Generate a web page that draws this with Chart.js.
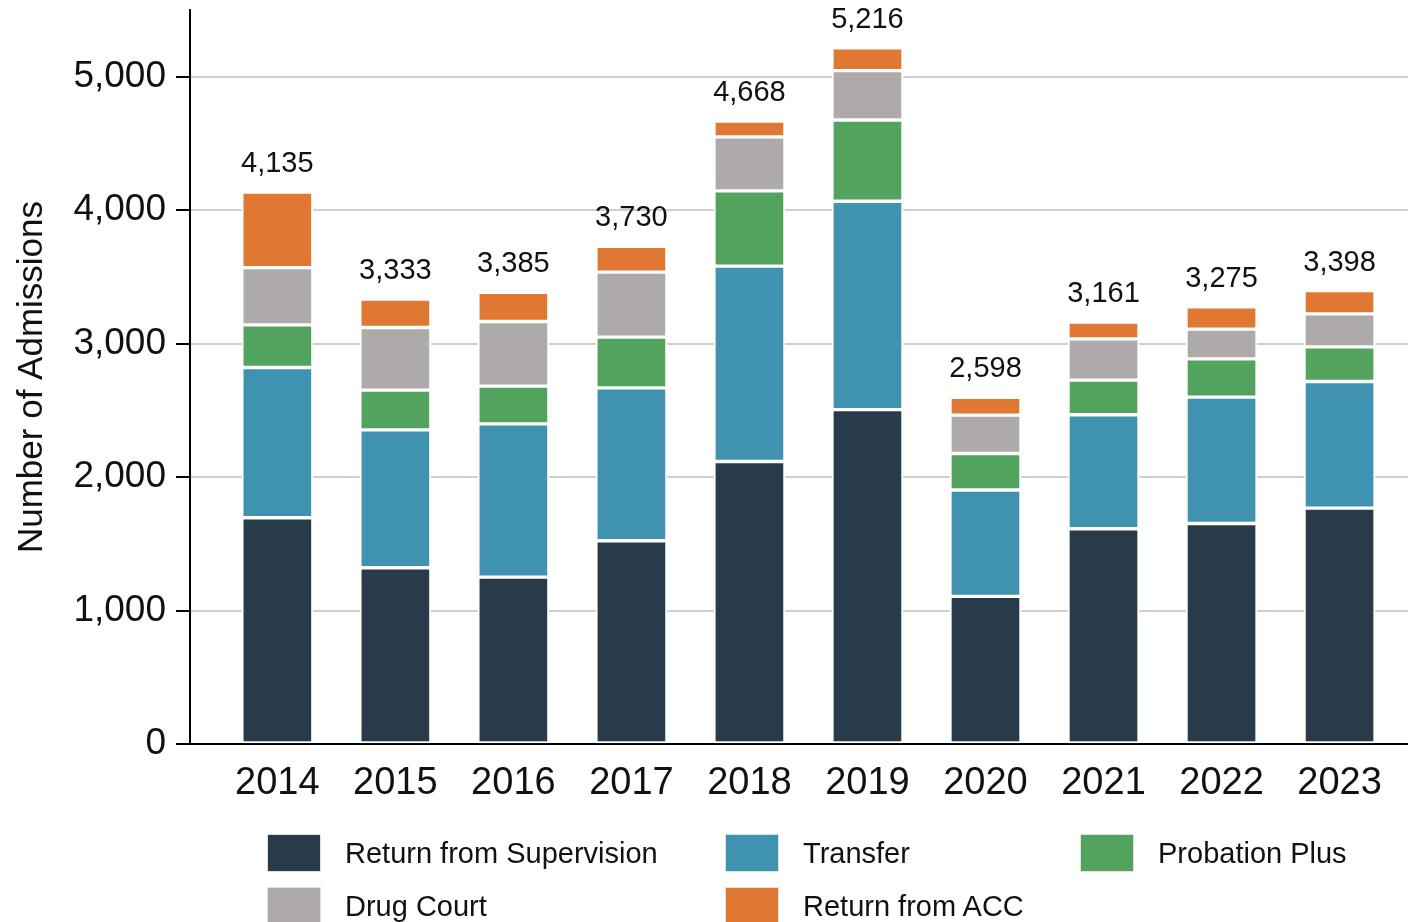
<!DOCTYPE html>
<html>
<head>
<meta charset="utf-8">
<script src="https://cdn.jsdelivr.net/npm/chart.js@4.4.0/dist/chart.umd.min.js"></script>
<style>
  body { margin: 0; background: #fff; }
  #wrap { position: relative; width: 1408px; height: 922px; }
  #legend {
    position: absolute; left: 268px; top: 835px;
    display: grid; grid-template-columns: 458px 355px 300px; grid-auto-rows: 53px;
    font-family: "Liberation Sans", Arial, sans-serif; font-size: 29px; color: #111;
  }
  .item { display: flex; align-items: center; height: 36px; white-space: nowrap; }
  .swatch { width: 52px; height: 36px; margin-right: 25px; box-shadow: 0 0 0 1px #e2e2e2; }
</style>
</head>
<body>
<div id="wrap">
  <canvas id="chart" width="1408" height="922"></canvas>
  <div id="legend"></div>
</div>
<script>
// admissions by type, stacked bottom to top
const years = ['2014', '2015', '2016', '2017', '2018', '2019', '2020', '2021', '2022', '2023'];
const returnFromSupervision = [1695, 1321, 1251, 1523, 2117, 2506, 1106, 1613, 1652, 1768];
const transfer = [1126, 1033, 1148, 1146, 1464, 1561, 797, 854, 947, 948];
const probationPlus = [320, 298, 283, 380, 564, 609, 274, 260, 287, 260];
const drugCourt = [429, 469, 484, 487, 404, 370, 287, 309, 223, 247];
const returnFromACC = [565, 212, 219, 194, 119, 170, 134, 125, 166, 175];
const yTicks = [0, 1000, 2000, 3000, 4000, 5000];

const FONT = '"Liberation Sans", Arial, sans-serif';

// total above each stack
const totalLabels = {
  id: 'totalLabels',
  afterDatasetsDraw(chart) {
    const ctx = chart.ctx;
    const topMeta = chart.getDatasetMeta(chart.data.datasets.length - 1);
    ctx.save();
    ctx.font = '29px ' + FONT;
    ctx.fillStyle = '#111';
    ctx.textAlign = 'center';
    ctx.textBaseline = 'alphabetic';
    topMeta.data.forEach((bar, i) => {
      const total = chart.data.datasets.reduce((sum, ds) => sum + ds.data[i], 0);
      ctx.fillText(total.toLocaleString('en-US'), bar.x, bar.y - 20);
    });
    ctx.restore();
  }
};

const makeSet = (label, data, color) => ({
  label: label,
  data: data,
  backgroundColor: color,
  borderColor: '#ffffff',
  borderWidth: 2,
  borderSkipped: false,
  barThickness: 71
});

const chart = new Chart(document.getElementById('chart'), {
  type: 'bar',
  data: {
    labels: years,
    datasets: [
      makeSet('Return from Supervision', returnFromSupervision, '#273b4a'),
      makeSet('Transfer', transfer, '#3f93b0'),
      makeSet('Probation Plus', probationPlus, '#51a35d'),
      makeSet('Drug Court', drugCourt, '#aeaaa9'),
      makeSet('Return from ACC', returnFromACC, '#e07733')
    ]
  },
  options: {
    responsive: false,
    animation: false,
    locale: 'en-US',
    layout: { padding: { top: 10, right: 0, bottom: 118, left: 0 } },
    plugins: {
      legend: { display: false },
      tooltip: { enabled: false }
    },
    scales: {
      x: {
        type: 'linear',
        stacked: true,
        offset: false,
        bounds: 'data',
        min: 2013.26,
        max: 2023.58,
        grid: { display: false, drawTicks: false, offset: false },
        border: { display: true, color: '#000', width: 2 },
        afterBuildTicks: (scale) => { scale.ticks = years.map(y => ({ value: +y })); },
        ticks: {
          callback: (v) => String(v),
          font: { family: FONT, size: 38 },
          color: '#111',
          padding: 17,
          maxRotation: 0,
          autoSkip: false
        },
        afterFit: (scale) => { scale.height = 60; scale.paddingLeft = 0; scale.paddingRight = 0; }
      },
      y: {
        stacked: true,
        bounds: 'data',
        min: 0,
        max: 5500,
        afterBuildTicks: (scale) => { scale.ticks = yTicks.map(v => ({ value: v })); },
        ticks: {
          callback: (v) => v.toLocaleString('en-US'),
          font: { family: FONT, size: 37 },
          color: '#111',
          padding: 10
        },
        grid: { color: '#cfcfcf', lineWidth: 2, tickColor: '#000', tickLength: 14, tickWidth: 2 },
        border: { color: '#000', width: 2 },
        title: {
          display: true,
          text: 'Number of Admissions',
          font: { family: FONT, size: 35 },
          color: '#111',
          padding: { top: 11, bottom: 0 }
        },
        afterFit: (scale) => { scale.width = 190; scale.paddingTop = 0; scale.paddingBottom = 0; }
      }
    }
  },
  plugins: [totalLabels]
});

// legend laid out as a grid like the original
const legend = document.getElementById('legend');
chart.data.datasets.forEach(ds => {
  const item = document.createElement('div');
  item.className = 'item';
  const sw = document.createElement('span');
  sw.className = 'swatch';
  sw.style.background = ds.backgroundColor;
  const txt = document.createElement('span');
  txt.textContent = ds.label;
  item.appendChild(sw);
  item.appendChild(txt);
  legend.appendChild(item);
});
</script>
</body>
</html>
